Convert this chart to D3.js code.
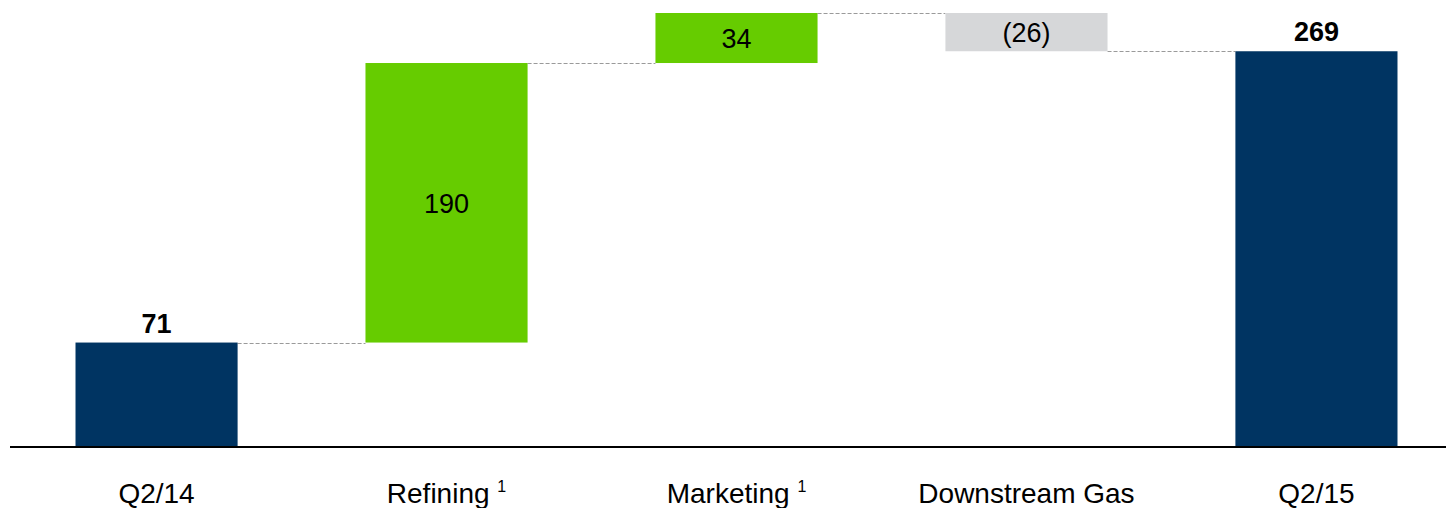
<!DOCTYPE html>
<html>
<head>
<meta charset="utf-8">
<script src="https://cdn.jsdelivr.net/npm/d3@7"></script>
<style>
  html, body { margin: 0; padding: 0; background: #fff; }
  svg { display: block; font-family: "Liberation Sans", Arial, sans-serif; }
</style>
</head>
<body>
<svg id="chart" width="1446" height="508"></svg>
<script>
const categories = ["Q2/14", "Refining", "Marketing", "Downstream Gas", "Q2/15"];
const footnotes = ["", "1", "1", "", ""];
const values = [71, 190, 34, -26, 269];
const kinds = ["total", "delta", "delta", "delta", "total"];
const valueLabels = ["71", "190", "34", "(26)", "269"];

const width = 1446, height = 508;
const baseY = 446;

const colors = { total: "#003462", up: "#66CC00", down: "#D6D7D9" };

// running totals for the waterfall
let run = 0;
const bars = categories.map((c, i) => {
  let start, end;
  if (kinds[i] === "total") { start = 0; end = values[i]; run = values[i]; }
  else { start = run; end = run + values[i]; run = end; }
  return { cat: c, start, end, kind: kinds[i], value: values[i], label: valueLabels[i], note: footnotes[i] };
});

const svg = d3.select("#chart");

const x = d3.scaleBand()
  .domain(categories)
  .range([12, 1461])
  .paddingInner(0.441)
  .paddingOuter(0.219);

const y = d3.scaleLinear()
  .domain([0, 295])
  .range([baseY + 1, 13]);

function barColor(d) {
  if (d.kind === "total") return colors.total;
  return d.value >= 0 ? colors.up : colors.down;
}

// connectors
const links = bars.slice(0, -1).map((d, i) => ({ from: d, to: bars[i + 1], level: d.end }));
svg.append("g")
  .selectAll("line")
  .data(links)
  .join("line")
  .attr("x1", d => x(d.from.cat) + x.bandwidth())
  .attr("x2", d => x(d.to.cat))
  .attr("y1", d => Math.round(y(d.level)) + 0.5)
  .attr("y2", d => Math.round(y(d.level)) + 0.5)
  .attr("stroke", "#9A9A9A")
  .attr("stroke-width", 1.2)
  .attr("stroke-dasharray", "4,2");

// bars
svg.append("g")
  .selectAll("rect")
  .data(bars)
  .join("rect")
  .attr("x", d => x(d.cat))
  .attr("width", x.bandwidth())
  .attr("y", d => y(Math.max(d.start, d.end)))
  .attr("height", d => Math.abs(y(d.start) - y(d.end)))
  .attr("fill", barColor);

// value labels
svg.append("g")
  .selectAll("text")
  .data(bars)
  .join("text")
  .attr("x", d => x(d.cat) + x.bandwidth() / 2)
  .attr("y", d => d.kind === "total"
    ? y(d.end) - 10
    : (y(d.start) + y(d.end)) / 2 + 10)
  .attr("text-anchor", "middle")
  .style("font-size", "27px")
  .style("font-weight", d => d.kind === "total" ? "bold" : "normal")
  .style("fill", "#000")
  .text(d => d.label);

// baseline
svg.append("line")
  .attr("x1", 10)
  .attr("x2", width)
  .attr("y1", baseY + 1)
  .attr("y2", baseY + 1)
  .attr("stroke", "#000")
  .attr("stroke-width", 2);

// category labels
const xAxis = svg.append("g")
  .attr("transform", `translate(0,${baseY})`)
  .call(d3.axisBottom(x).tickSize(0).tickPadding(0));
xAxis.select(".domain").remove();
xAxis.selectAll(".tick text")
  .attr("y", 57)
  .attr("dy", 0)
  .style("font-size", "28px")
  .style("font-family", "Liberation Sans, Arial, sans-serif")
  .style("fill", "#000")
  .each(function (c) {
    const i = categories.indexOf(c);
    if (footnotes[i]) {
      const t = d3.select(this);
      t.text(c + " ");
      t.append("tspan")
        .attr("dy", -11)
        .style("font-size", "16px")
        .text(footnotes[i]);
    }
  });
</script>
</body>
</html>
